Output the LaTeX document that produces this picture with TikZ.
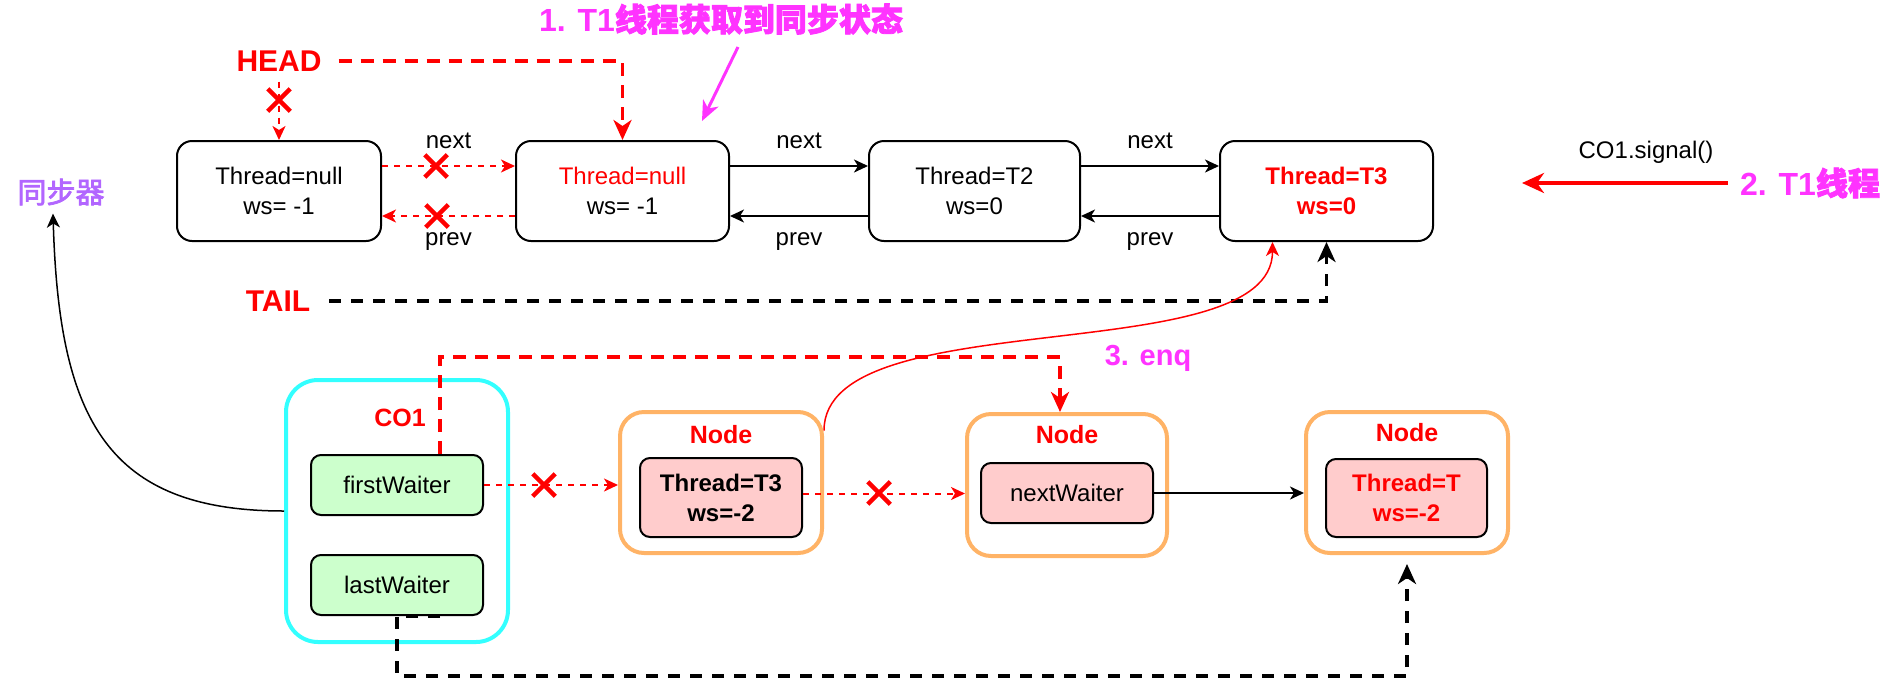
\documentclass[tikz,border=0pt]{standalone}
\usepackage{fontspec}
\setmainfont{Liberation Sans}
\newfontfamily\cjkb{Noto Sans CJK SC}[FakeBold=2.5]
\usetikzlibrary{arrows.meta,shapes.misc,calc}
\definecolor{cred}{HTML}{FF0000}
\definecolor{cmag}{HTML}{FF33FF}
\definecolor{cpur}{HTML}{B266FF}
\definecolor{ccyan}{HTML}{33FFFF}
\definecolor{corange}{HTML}{FFB366}
\definecolor{cgreen}{HTML}{CCFFCC}
\definecolor{cpink}{HTML}{FFCCCC}
\tikzset{
  f24/.style={font=\fontsize{24}{30}\selectfont},
  f24b/.style={font=\fontsize{24}{30}\selectfont\bfseries},
  lbl/.style={f24, inner sep=0pt},
  topbox/.style={draw, line width=2pt, rounded corners=15pt, minimum height=100pt, align=center, inner sep=0pt, f24},
  bigred/.style={text=cred, font=\fontsize{30}{36}\selectfont\bfseries, inner sep=2pt},
  redtitle/.style={text=cred, font=\fontsize{25}{30}\selectfont\bfseries, inner sep=0pt},
  magtext/.style={text=cmag, font=\fontsize{32}{38}\selectfont\bfseries, inner sep=0pt},
  co1box/.style={draw=ccyan, line width=4pt, rounded corners=32pt},
  orangebox/.style={draw=corange, line width=4pt, rounded corners=24pt, minimum width=202pt, minimum height=141pt},
  greenbox/.style={draw, fill=cgreen, line width=2pt, rounded corners=10pt, minimum width=172pt, minimum height=60pt, inner sep=0pt, f24},
  pinkbox/.style={draw, fill=cpink, line width=2pt, rounded corners=10pt, align=center, inner sep=0pt},
  xmark/.style={cross out, draw=cred, line width=4.5pt, minimum size=18pt, inner sep=0pt},
  tipS/.style={-{Stealth[length=14pt,width=13pt,inset=4pt]}},
  tipL/.style={-{Stealth[length=20pt,width=18pt,inset=6pt]}},
  redthin/.style={draw=cred, line width=2pt, dash pattern=on 6pt off 6pt, tipS},
  redthick/.style={draw=cred, line width=3.5pt, dash pattern=on 13pt off 9pt, tipL},
  blackthick/.style={draw=black, line width=3.5pt, dash pattern=on 12pt off 10pt, tipL},
  blackarrow/.style={draw=black, line width=2pt, tipS},
}
\begin{document}
\begin{tikzpicture}[x=1pt,y=-1pt]
\useasboundingbox (0,0) rectangle (1892,694);

% ---------- top list ----------
\node[topbox, minimum width=204pt] (n1) at (279,191) {Thread=null\\ws= -1};
\node[topbox, minimum width=213pt] (n2) at (622.5,191) {\textcolor{cred}{Thread=null}\\ws= -1};
\node[topbox, minimum width=211pt] (n3) at (974.5,191) {Thread=T2\\ws=0};
\node[topbox, minimum width=213pt, text=cred, f24b] (n4) at (1326.5,191) {Thread=T3\\ws=0};

\node[bigred] (head) at (279,61) {HEAD};
\node[bigred] (tail) at (278,301) {TAIL};

\draw[redthick] ([xshift=15pt]head.east) -| (n2.north);
\draw[redthin] ([yshift=-8pt]head.south) -- (n1.north);
\node[xmark] (x0) at (279,100) {};

\draw[redthin] ([yshift=25pt]n1.east) -- ([yshift=25pt]n2.west)
  node[midway, lbl, yshift=25pt] (ln1) {next};
\node[xmark] (x1) at (436,166) {};
\draw[redthin] ([yshift=-25pt]n2.west) -- ([yshift=-25pt]n1.east)
  node[midway, lbl, yshift=-25.5pt] (lp1) {prev};
\node[xmark] (x2) at (437,216) {};

\draw[blackarrow] ([yshift=25pt]n2.east) -- ([yshift=25pt]n3.west)
  node[midway, lbl, yshift=25pt] (ln2) {next};
\draw[blackarrow] ([yshift=-25pt]n3.west) -- ([yshift=-25pt]n2.east)
  node[midway, lbl, yshift=-25.5pt] (lp2) {prev};
\draw[blackarrow] ([yshift=25pt]n3.east) -- ([yshift=25pt]n4.west)
  node[midway, lbl, yshift=25pt] (ln3) {next};
\draw[blackarrow] ([yshift=-25pt]n4.west) -- ([yshift=-25pt]n3.east)
  node[midway, lbl, yshift=-25.5pt] (lp3) {prev};

\draw[blackthick] ([xshift=17pt]tail.east) -| (n4.south);

% ---------- annotations ----------
\node[magtext] (t1) at (721,19) {1. T1{\cjkb 线程获取到同步状态}};
\coordinate (m1) at (738,47);
\coordinate (m2) at (702,121);
\draw[draw=cmag, line width=3pt, -{Stealth[length=20pt,width=17pt,inset=6pt]}] (m1) -- (m2);

\node[lbl] (sig) at (1646,152) {CO1.signal()};
\node[magtext] (t2) at (1810,183) {2. T1{\cjkb 线程}};
\coordinate (sigend) at (1522,183);
\draw[draw=cred, line width=4pt, -{Stealth[length=22pt,width=20pt,inset=7pt]}] ([xshift=-12pt]t2.west) -- (sigend);

\node[text=cpur, font=\fontsize{29}{34}\selectfont\cjkb, inner sep=0pt] (sync) at (61,192) {同步器};

% ---------- bottom ----------
\node[co1box, minimum width=222pt, minimum height=262pt] (co1) at (397,511) {};
\node[redtitle] (co1l) at (400,418) {CO1};
\node[greenbox] (fw) at (397,485) {firstWaiter};
\node[greenbox] (lw) at (397,585) {lastWaiter};

\node[orangebox] (nA) at (721,482.5) {};
\node[redtitle] (nAl) at (721,435) {Node};
\node[pinkbox, minimum width=162pt, minimum height=79pt, f24b] (iA) at (721,497.5) {Thread=T3\\ws=-2};

\node[orangebox, minimum width=200pt, minimum height=142pt] (nB) at (1067,485) {};
\node[redtitle] (nBl) at (1067,435) {Node};
\node[pinkbox, minimum width=172pt, minimum height=60pt, f24] (iB) at (1067,493) {nextWaiter};

\node[orangebox] (nC) at (1407,482.5) {};
\node[redtitle] (nCl) at (1407,433) {Node};
\node[pinkbox, minimum width=161pt, minimum height=78pt, f24b, text=cred] (iC) at (1406.5,498) {Thread=T\\ws=-2};

% connectors bottom
\draw[redthin] (fw.east) -- (fw.east -| nA.west);
\node[xmark] (x3) at (544,485) {};
\draw[redthin] ([yshift=4pt]iA.east) -- ([yshift=4pt]iA.east -| nB.west);
\node[xmark] (x4) at (879,493) {};
\draw[blackarrow] (iB.east) -- (iB.east -| nC.west);

\draw[redthick] ([xshift=43pt]fw.north) -- ++(0,-97) -| ([xshift=-7pt]nB.north);

\draw[blackthick] ([xshift=43pt]lw.south) -- (lw.south) -- ++(0,60) -| ([yshift=-9pt]nC.south);

\draw[draw=cred, line width=1.5pt, tipS] ([yshift=52pt]nA.east) .. controls +(0,-130) and +(0,130) .. ([xshift=-54pt]n4.south);
\node[text=cmag, font=\fontsize{29}{34}\selectfont\bfseries, inner sep=0pt] (enq) at (1148,358) {3. enq};

\draw[black, line width=1.5pt, tipS] (co1.west) .. controls +(-176,0) and +(6,207) .. ([xshift=-8pt,yshift=-8pt]sync.south);

\end{tikzpicture}
\end{document}
